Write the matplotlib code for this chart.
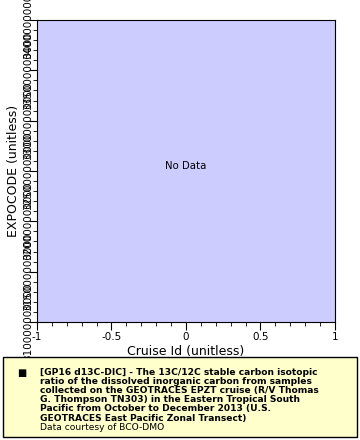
import matplotlib
matplotlib.use("Agg")
from matplotlib import pyplot as plt
from matplotlib.patches import Rectangle

# no data in this dataset selection
cruise_id = []
expocode = []

x_ticks = [-1, -0.5, 0, 0.5, 1]
x_tick_labels = ["-1", "-0.5", "0", "0.5", "1"]
y_ticks = [0, 1, 2, 3, 4, 5, 6]
y_tick_labels = ["310000000000", "315000000000", "320000000000", "325000000000",
                 "330000000000", "335000000000", "340000000000"]

legend_lines = ["[GP16 d13C-DIC] - The 13C/12C stable carbon isotopic",
                "ratio of the dissolved inorganic carbon from samples",
                "collected on the GEOTRACES EPZT cruise (R/V Thomas",
                "G. Thompson TN303) in the Eastern Tropical South",
                "Pacific from October to December 2013 (U.S.",
                "GEOTRACES East Pacific Zonal Transect)"]
credit = "Data courtesy of BCO-DMO"

fig = plt.figure(figsize=(3.6, 4.4), dpi=100)
ax = fig.add_axes([37/360, 1 - 322/440, 298/360, 302/440])
ax.set_facecolor("#ccccff")
ax.scatter(cruise_id, expocode)
ax.set_xlim(-1, 1)
ax.set_ylim(0, 6)
ax.set_xticks(x_ticks)
ax.set_xticklabels(x_tick_labels, fontsize=7.5)
ax.set_xticks([-0.9, -0.8, -0.7, -0.6, -0.4, -0.3, -0.2, -0.1,
               0.1, 0.2, 0.3, 0.4, 0.6, 0.7, 0.8, 0.9], minor=True)
ax.set_yticks(y_ticks)
ax.set_yticklabels(y_tick_labels, fontsize=7.5, rotation=90, va="center")
ax.set_yticks([i + j / 5 for i in range(6) for j in range(1, 5)], minor=True)
ax.tick_params(which="major", length=6, width=0.8, pad=1)
ax.tick_params(axis="y", which="major", pad=-3)
ax.tick_params(which="minor", length=3, width=0.6)
ax.set_xlabel("Cruise Id (unitless)", fontsize=9, labelpad=2)
ax.set_ylabel("EXPOCODE (unitless)", fontsize=9)
ax.yaxis.set_label_coords(-17/298, 0.5)
ax.text(0, 3.1, "No Data", ha="center", va="center", fontsize=7.3)

# legend box
fig.patches.append(Rectangle((3/360, 3/440), 354/360, 80/440, transform=fig.transFigure,
                             facecolor="#ffffcc", edgecolor="black", linewidth=1))
fig.text(17/360, 1 - 373/440, "\u25a0", fontsize=7, va="center")
for i, line in enumerate(legend_lines):
    fig.text(40/360, 1 - (372 + i * 9.2)/440, line, fontsize=6.6,
             fontweight="bold", va="center")
fig.text(40/360, 1 - (372 + 6 * 9.2)/440, credit, fontsize=6.6, va="center")

plt.savefig("out.png", dpi=100)
